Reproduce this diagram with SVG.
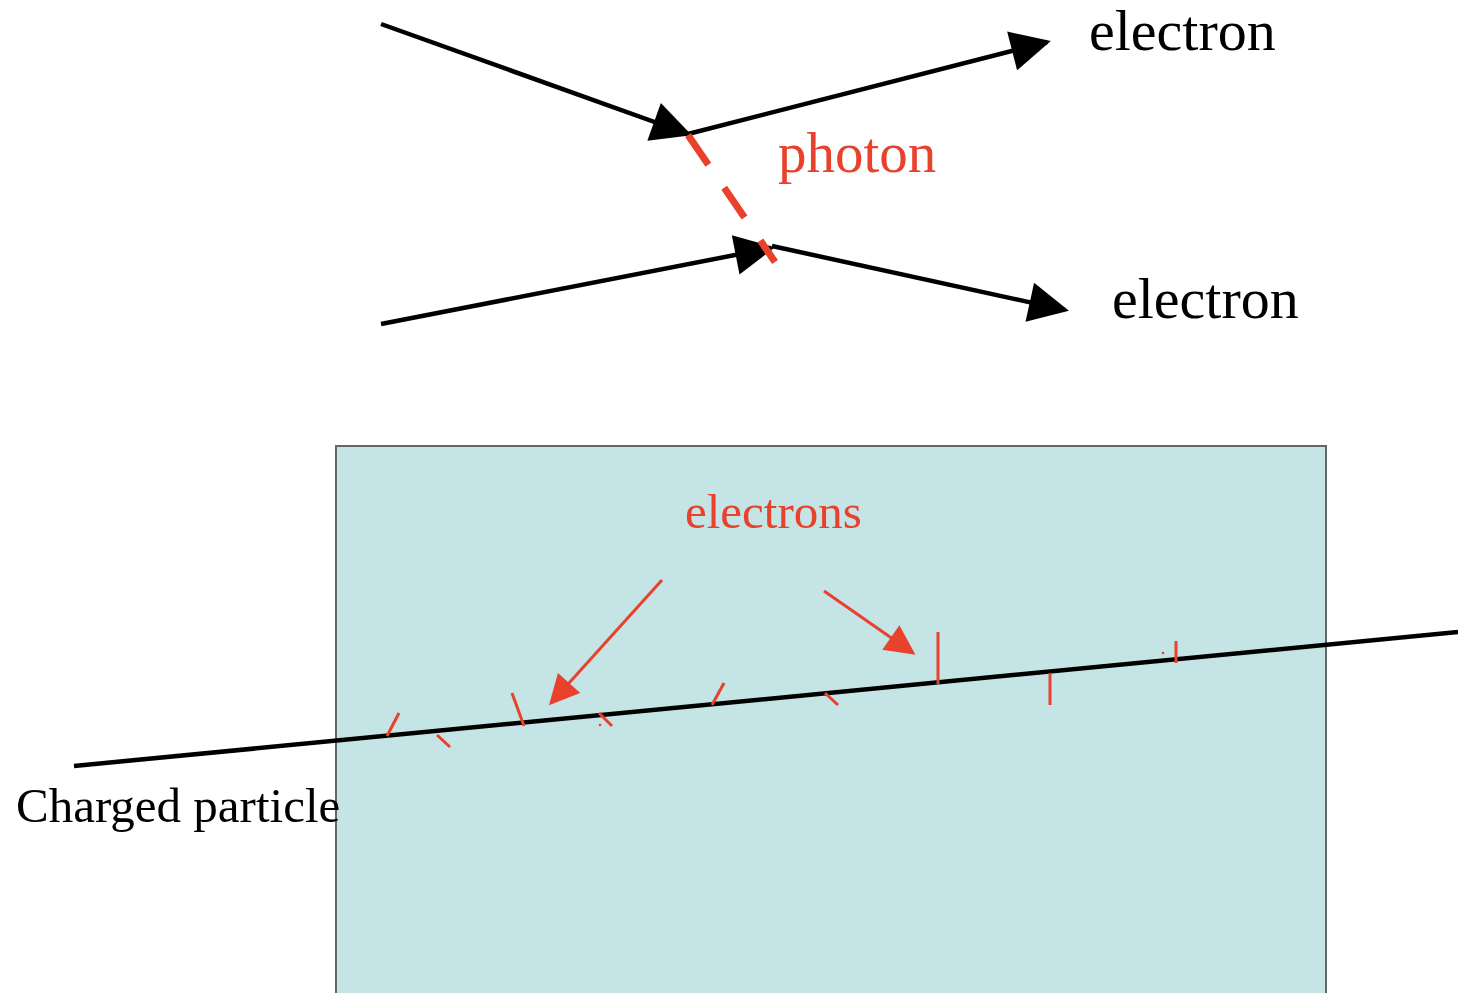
<svg xmlns="http://www.w3.org/2000/svg" width="1458" height="993" viewBox="0 0 1458 993">
<style>
.blk{stroke:#000;stroke-width:4.5;fill:none}
.red{stroke:#e8412c;fill:none}
.tick{stroke:#e8412c;stroke-width:3;fill:none}
.serif{font-family:"Liberation Serif","Times New Roman",serif}
</style>
<defs>
<marker id="ah" viewBox="0 0 10 10" refX="9" refY="5" markerWidth="44" markerHeight="40" markerUnits="userSpaceOnUse" orient="auto">
<path d="M0,0 L10,5 L0,10 Z" fill="#000"/>
</marker>
<marker id="rh" viewBox="0 0 10 10" refX="9" refY="5" markerWidth="32" markerHeight="30" markerUnits="userSpaceOnUse" orient="auto">
<path d="M0,0 L10,5 L0,10 Z" fill="#e8412c"/>
</marker>
</defs>
<rect width="1458" height="993" fill="#fff"/>
<g id="detector">
<rect x="336" y="446" width="990" height="560" fill="#c5e4e5" stroke="#666" stroke-width="2"/>
</g>
<g id="connectors">
<line class="blk" x1="381" y1="24" x2="688" y2="134" marker-end="url(#ah)"/>
<line class="blk" x1="688" y1="134" x2="1047" y2="42" marker-end="url(#ah)"/>
<line class="blk" x1="381" y1="324" x2="771" y2="248" marker-end="url(#ah)"/>
<line class="blk" x1="772" y1="246" x2="1065" y2="310" marker-end="url(#ah)"/>
<line class="red" stroke-width="7" stroke-dasharray="36 28" x1="688" y1="135" x2="775" y2="262"/>
<line class="blk" x1="74" y1="766" x2="1458" y2="632" stroke-width="4"/>
<line class="red" stroke-width="3" x1="662" y1="580" x2="551" y2="703" marker-end="url(#rh)"/>
<line class="red" stroke-width="3" x1="824" y1="591" x2="913" y2="653" marker-end="url(#rh)"/>
</g>
<g id="tracks">
<line class="tick" x1="399" y1="713" x2="387" y2="736"/>
<line class="tick" x1="437" y1="735" x2="450" y2="747"/>
<line class="tick" x1="512" y1="693" x2="524" y2="726"/>
<line class="tick" x1="599" y1="713" x2="612" y2="726"/>
<circle cx="600" cy="725" r="1.3" fill="#e8412c"/>
<line class="tick" x1="724" y1="683" x2="712" y2="705"/>
<line class="tick" x1="825" y1="693" x2="838" y2="705"/>
<line class="tick" x1="938" y1="632" x2="938" y2="684"/>
<line class="tick" x1="1050" y1="673" x2="1050" y2="705"/>
<line class="tick" x1="1176" y1="641" x2="1176" y2="663"/>
<circle cx="1163" cy="653" r="1.3" fill="#e8412c"/>
</g>
<g id="labels">
<text class="serif" x="1089" y="50" font-size="58" fill="#000">electron</text>
<text class="serif" x="1112" y="318" font-size="58" fill="#000">electron</text>
<text class="serif" x="778" y="172" font-size="57" fill="#e8412c">photon</text>
<text class="serif" x="685" y="528" font-size="49" fill="#e8412c">electrons</text>
<text class="serif" x="16" y="822" font-size="49" fill="#000">Charged particle</text>
</g>
</svg>
